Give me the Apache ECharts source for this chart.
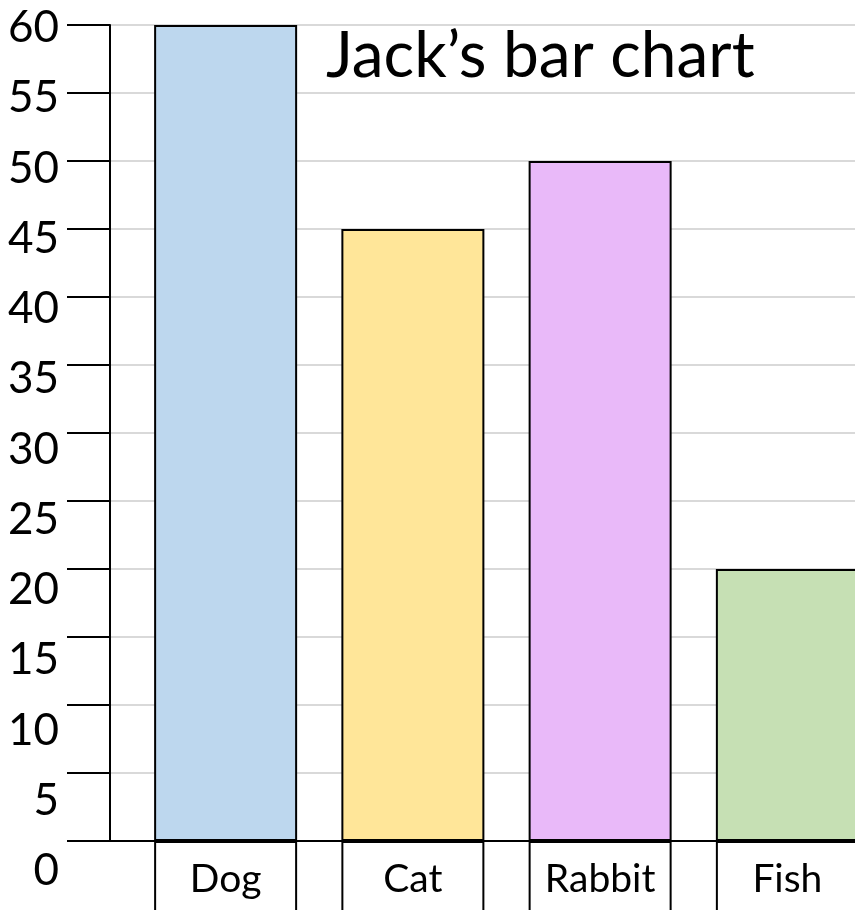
<!DOCTYPE html>
<html>
<head>
<meta charset="utf-8">
<script src="https://cdn.jsdelivr.net/npm/echarts@6/dist/echarts.min.js"></script>
<style>
html,body{margin:0;padding:0;background:#fff;overflow:hidden;width:855px;height:910px;}
#chart{width:881px;height:930px;}
</style>
</head>
<body>
<div id="chart"></div>
<script>
// ---- data ----
const chartTitle = 'Jack\u2019s bar chart';
const categories = ['Dog', 'Cat', 'Rabbit', 'Fish'];
const values = [60, 45, 50, 20];
const yMin = 0;
const yMax = 60;
const yStep = 5;

// ---- styles ----
const barColors = ['#BDD7EE', '#FFE699', '#E9B9F9', '#C6E0B4'];
const FONT = 'Lato';

const chart = echarts.init(document.getElementById('chart'), null, {renderer: 'canvas'});

const option = {
  animation: false,
  backgroundColor: '#ffffff',
  title: {
    text: chartTitle,
    left: 326,
    top: 24,
    padding: 0,
    textStyle: {fontFamily: FONT, fontSize: 64, fontWeight: 'normal', color: '#000'}
  },
  grid: [
    // 0: axis frame, ticks, grid lines
    {left: 110, right: 26, top: 25, bottom: 89},
    // 1: bars
    {left: 132, right: 0, top: 25, bottom: 89},
    // 2: category label cells
    {left: 132, right: 0, top: 841, bottom: 12},
    // 3: y tick labels
    {left: 110, right: 26, top: 28, bottom: 59}
  ],
  xAxis: [
    {gridIndex: 0, type: 'value', min: 0, max: 1,
     axisLine: {show: true, lineStyle: {color: '#000', width: 2}},
     axisTick: {show: false}, axisLabel: {show: false}, splitLine: {show: false}},
    {gridIndex: 1, type: 'category', data: categories, show: false},
    {gridIndex: 2, type: 'category', data: categories, show: false},
    {gridIndex: 3, type: 'value', show: false}
  ],
  yAxis: [
    {gridIndex: 0, type: 'value', min: yMin, max: yMax, interval: yStep,
     axisLine: {show: true, lineStyle: {color: '#000', width: 2}},
     axisTick: {show: true, length: 43, lineStyle: {color: '#000', width: 2}},
     axisLabel: {show: false},
     splitLine: {show: true, lineStyle: {color: '#D9D9D9', width: 2}}},
    {gridIndex: 1, type: 'value', min: yMin, max: yMax, show: false},
    {gridIndex: 2, type: 'value', min: 0, max: 1, show: false},
    {gridIndex: 3, type: 'value', min: yMin, max: yMax, interval: yStep,
     axisLine: {show: false}, axisTick: {show: false}, splitLine: {show: false},
     axisLabel: {show: true, margin: 51, fontFamily: FONT, fontSize: 44, color: '#000'}}
  ],
  series: [
    {
      type: 'bar', xAxisIndex: 1, yAxisIndex: 1,
      barWidth: 143,
      data: values.map((v, i) => ({value: v, itemStyle: {color: barColors[i]}})),
      itemStyle: {borderColor: '#000', borderWidth: 2}
    },
    {
      type: 'bar', xAxisIndex: 2, yAxisIndex: 2,
      barWidth: 143,
      data: categories.map(() => 1),
      itemStyle: {color: '#fff', borderColor: '#000', borderWidth: 2},
      label: {
        show: true, position: 'inside',
        formatter: (p) => p.name,
        fontFamily: FONT, fontSize: 39, color: '#000'
      }
    }
  ]
};
chart.setOption(option);
</script>
</body>
</html>
